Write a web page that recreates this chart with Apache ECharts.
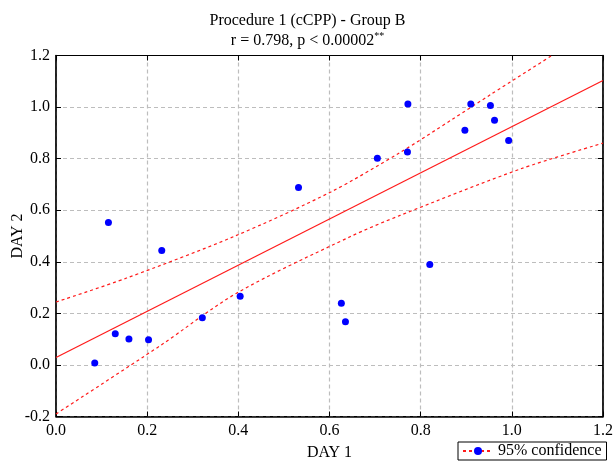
<!DOCTYPE html>
<html>
<head>
<meta charset="utf-8">
<script src="https://cdn.jsdelivr.net/npm/echarts@6/dist/echarts.min.js"></script>
<style>html,body{margin:0;padding:0;background:#fff}#c{width:615px;height:461px}</style>
</head>
<body>
<div id="c"></div>
<script>
// Scatter points (DAY 1, DAY 2)
const day1 = [0.085,0.115,0.130,0.160,0.203,0.232,0.321,0.404,0.532,0.626,0.635,0.705,0.771,0.772,0.820,0.897,0.910,0.953,0.962,0.993];
const day2 = [0.007,0.552,0.121,0.101,0.098,0.444,0.183,0.266,0.688,0.239,0.167,0.802,0.826,1.012,0.389,0.910,1.012,1.006,0.949,0.870];
// Regression line
const fitX = [0.0, 1.2];
const fitY = [0.029, 1.103];
// Upper 95% confidence band
const upX = [0.0, 0.155, 0.389, 0.602, 0.755, 0.869, 0.953, 1.088];
const upY = [0.244, 0.337, 0.497, 0.670, 0.824, 0.952, 1.048, 1.2];
// Lower 95% confidence band
const loX = [0.0, 0.228, 0.397, 0.645, 0.755, 1.019, 1.2];
const loY = [-0.19, 0.074, 0.279, 0.497, 0.580, 0.760, 0.860];
// Axis ticks
const xTicks = [0.0,0.2,0.4,0.6,0.8,1.0,1.2];
const yTicks = [-0.2,0.0,0.2,0.4,0.6,0.8,1.0,1.2];

const zip = (a,b) => a.map((v,i)=>[v,b[i]]);
const FONT = 'Liberation Serif';
const RED = '#ff1a1a';
const BLUE = '#0000ff';

const chart = echarts.init(document.getElementById('c'), null, {renderer:'canvas'});
const tickStyle = {show:true,inside:true,length:5,lineStyle:{color:'#000'}};
const gridLine = {show:true,lineStyle:{color:'#bdbdbd',type:[4,3],width:1.2}};
const lblStyle = {fontFamily:FONT,fontSize:16,color:'#000',margin:6,formatter:v=>v.toFixed(1)};
chart.setOption({
  animation:false,
  backgroundColor:'#fff',
  title:{
    text:'Procedure 1 (cCPP) - Group B\n{n|r = 0.798, p < 0.00002}{s|**}',
    left:'center', top:6,
    textStyle:{fontFamily:FONT,fontSize:16,fontWeight:'normal',color:'#000',lineHeight:20,
      rich:{n:{fontFamily:FONT,fontSize:16,color:'#000',lineHeight:20},
            s:{fontFamily:FONT,fontSize:10,color:'#000',verticalAlign:'top',lineHeight:20,padding:[0,0,10,0]}}}
  },
  grid:{left:56,right:12,top:55.5,bottom:44.5,show:true,borderColor:'#000',borderWidth:1,
    containLabel:false,outerBoundsMode:'none'},
  legend:{
    data:['95% confidence'],
    left:458, top:442,
    itemWidth:30, itemHeight:10, itemGap:4,
    padding:[1,5,1,4],
    borderColor:'#000', borderWidth:1, backgroundColor:'#fff',
    textStyle:{fontFamily:FONT,fontSize:16,color:'#000'}
  },
  xAxis:[
    {type:'value',min:0,max:1.2,interval:0.2,position:'bottom',
      name:'DAY 1',nameLocation:'middle',nameGap:28,nameMoveOverlap:false,
      nameTextStyle:{fontFamily:FONT,fontSize:16,color:'#000'},
      axisLine:{show:true,onZero:false,lineStyle:{color:'#000',width:1.5}},
      axisTick:tickStyle, axisLabel:lblStyle, splitLine:gridLine},
    {type:'value',min:0,max:1.2,interval:0.2,position:'top',
      axisLine:{show:true,onZero:false,lineStyle:{color:'#000',width:1}},
      axisTick:tickStyle, axisLabel:{show:false}, splitLine:{show:false}}
  ],
  yAxis:[
    {type:'value',min:-0.2,max:1.2,interval:0.2,position:'left',
      name:'DAY 2',nameLocation:'middle',nameGap:30,nameMoveOverlap:false,
      nameTextStyle:{fontFamily:FONT,fontSize:16,color:'#000'},
      axisLine:{show:true,onZero:false,lineStyle:{color:'#000',width:1.5}},
      axisTick:tickStyle, axisLabel:lblStyle, splitLine:gridLine},
    {type:'value',min:-0.2,max:1.2,interval:0.2,position:'right',
      axisLine:{show:true,onZero:false,lineStyle:{color:'#000',width:1.5}},
      axisTick:tickStyle, axisLabel:{show:false}, splitLine:{show:false}}
  ],
  series:[
    {type:'line',name:'fit',data:zip(fitX,fitY),showSymbol:false,symbol:'none',
      lineStyle:{color:RED,width:1.2},z:3,silent:true},
    {type:'line',name:'upper',data:zip(upX,upY),showSymbol:false,symbol:'none',smooth:0.3,
      lineStyle:{color:RED,width:1.2,type:[3,3]},z:3,silent:true},
    {type:'line',name:'lower',data:zip(loX,loY),showSymbol:false,symbol:'none',smooth:0.3,
      lineStyle:{color:RED,width:1.2,type:[3,3]},z:3,silent:true},
    {type:'scatter',name:'points',data:zip(day1,day2),symbol:'circle',symbolSize:7,
      itemStyle:{color:BLUE,opacity:1},z:4,silent:true},
    {type:'line',name:'95% confidence',data:[],symbol:'circle',symbolSize:7,
      itemStyle:{color:BLUE,opacity:1},lineStyle:{color:RED,width:1.2,type:[3,3]}}
  ]
});
</script>
</body>
</html>
